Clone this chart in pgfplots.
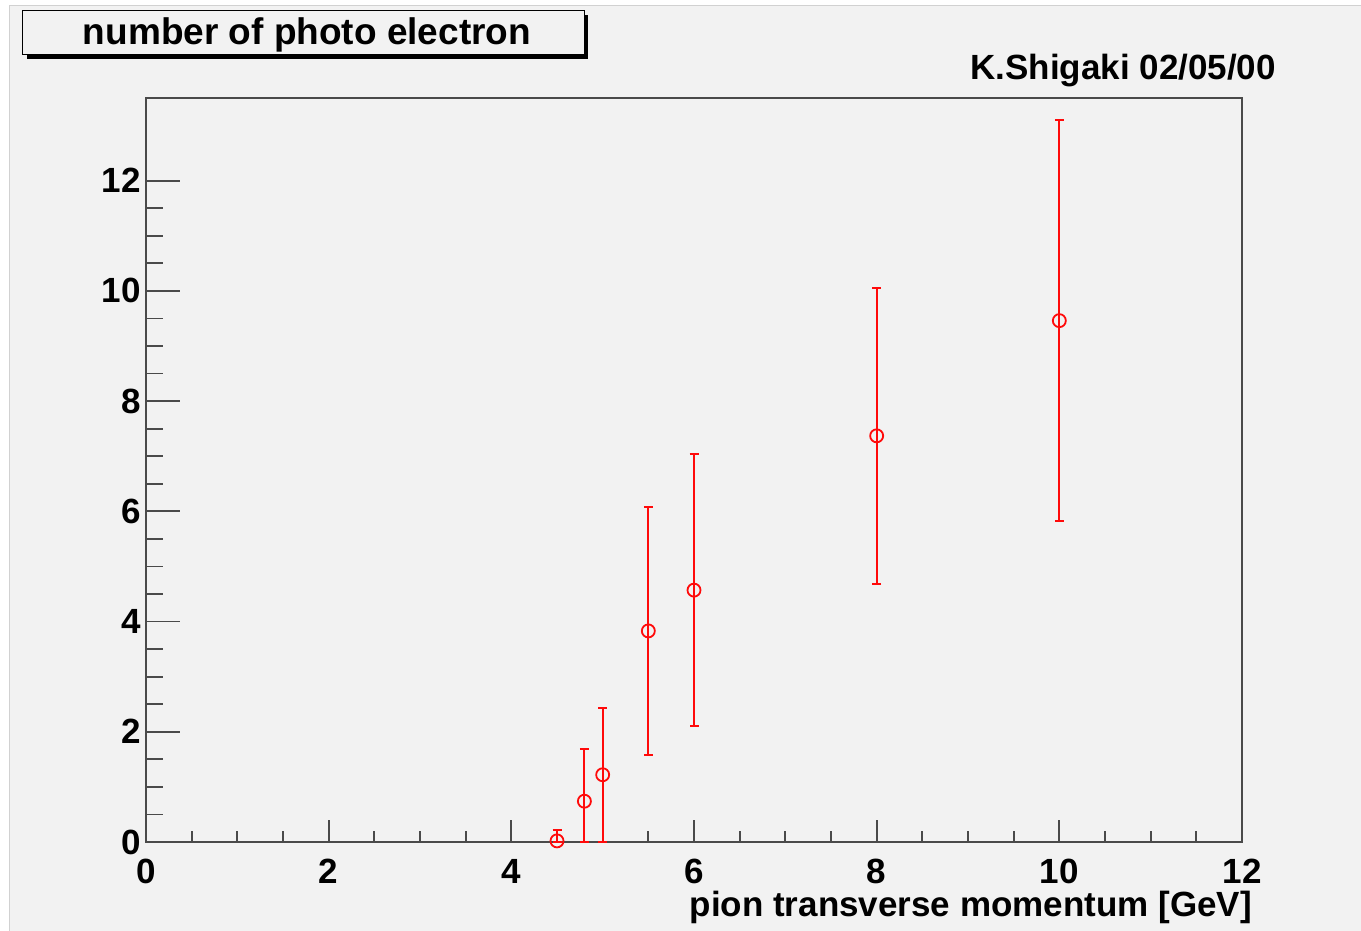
\documentclass[border=0pt]{standalone}
\usepackage{pgfplots}
\pgfplotsset{compat=1.18}
\usepackage{fontspec}
\setmainfont{Liberation Sans}
\definecolor{canvas}{HTML}{F2F2F2}
\definecolor{framec}{HTML}{4A4A4A}
\definecolor{markred}{HTML}{FF0A0A}

% photo-electron yield vs pion pT, with upper/lower errors
\pgfplotstableread{
x    y     ep    em
4.5  0.02  0.19  0.02
4.8  0.74  0.94  0.74
5.0  1.22  1.22  1.22
5.5  3.83  2.25  2.25
6.0  4.57  2.47  2.47
8.0  7.37  2.68  2.68
10.0 9.46  3.64  3.64
}\pedata

\newcommand{\lblfont}{\bfseries\fontsize{35}{40}\selectfont}

\pgfplotsset{
  rootframe/.style={
    scale only axis, width=1096pt, height=744pt,
    at={(146pt,89pt)}, anchor=south west,
    xmin=0, xmax=12, ymin=0, ymax=13.5,
    tick pos=left, tick align=inside,
    tick style={framec, line width=1.8pt},
    /pgf/number format/assume math mode=true,
    ticklabel style={font=\lblfont, inner sep=0pt},
  },
}

\begin{document}
\begin{tikzpicture}[x=1pt,y=1pt]
\useasboundingbox (0,0) rectangle (1361,931);
\fill[white] (0,0) rectangle (1361,931);
\fill[canvas] (9,0) rectangle (1361,926);
\draw[black!18, line width=0.8pt] (9,0) -- (9,926) -- (1361,926);

% title box with drop shadow
\fill[black] (27,872) rectangle (588,916);
\filldraw[fill=canvas, draw=black, line width=1pt] (22,876) rectangle (584,920);
\node[font=\bfseries\fontsize{37}{42}\selectfont, inner sep=0pt] at (307,896) {number of photo electron};
\node[font=\lblfont, inner sep=0pt, anchor=east] at (1276,860) {K.Shigaki 02/05/00};

% frame and y ticks
\begin{axis}[rootframe,
  xtick=\empty,
  ytick={0,2,...,12}, minor y tick num=3,
  major tick length=34pt, minor tick length=17pt,
  axis line style={framec, line width=1.8pt},
  yticklabel style={anchor=east, xshift=-5pt},
]
\end{axis}

% x ticks and data
\begin{axis}[rootframe,
  ytick=\empty,
  xtick={0,2,...,12}, minor x tick num=3,
  major tick length=22pt, minor tick length=11pt,
  axis line style={draw=none},
  clip=false,
  xticklabel style={anchor=north, yshift=-17pt},
  xlabel={pion transverse momentum [GeV]},
  xlabel style={font=\lblfont, inner sep=0pt, at={(rel axis cs:1,0)}, anchor=east, xshift=10pt, yshift=-65pt},
]
% error bars with end caps
\addplot[draw=none, mark=none,
  error bars/.cd, y dir=both, y explicit,
  error mark=|,
  error bar style={draw=markred, line width=2pt, solid},
  error mark options={draw=markred, mark size=4.5pt, line width=2pt, solid}]
  table[x=x, y=y, y error plus=ep, y error minus=em] {\pedata};
% open circle markers
\addplot[only marks, mark=o, mark size=6.5pt,
  mark options={draw=markred, line width=1.8pt, solid}]
  table[x=x, y=y] {\pedata};
\end{axis}
\end{tikzpicture}
\end{document}
